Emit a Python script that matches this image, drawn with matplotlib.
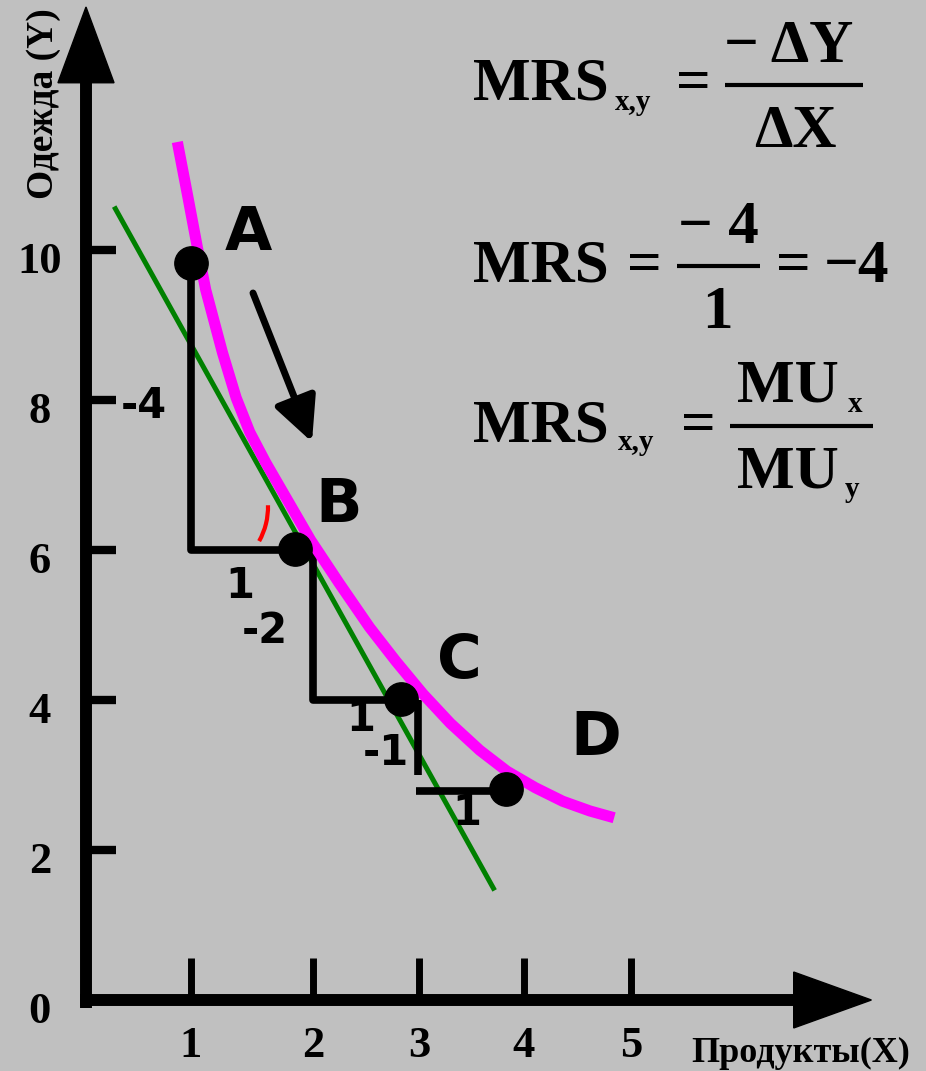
import numpy as np
import matplotlib.pyplot as plt
from matplotlib.patches import Polygon, Arc

# =============================================================================
# DATA
# =============================================================================

# indifference curve
curve_x = [0.87, 0.97, 1.06, 1.14, 1.30, 1.43, 1.56, 1.71, 1.90, 2.14, 2.41,
           2.70, 2.95, 3.21, 3.47, 3.75, 4.01, 4.28, 4.54, 4.80, 5.03]
curve_y = [11.44, 10.71, 10.04, 9.47, 8.63, 8.03, 7.57, 7.17, 6.71, 6.13, 5.56,
           4.97, 4.52, 4.08, 3.69, 3.33, 3.05, 2.83, 2.65, 2.52, 2.43]

# budget / tangent line
line_x = [0.28, 3.88]
line_y = [10.55, 1.49]

# bundles
point_names = ["A", "B", "C", "D"]
point_x = [1.0, 1.99, 3.0, 4.0]
point_y = [9.83, 6.02, 4.02, 2.82]

# dY / dX steps
step_x = [[1.0, 1.0, 2.0], [2.16, 2.16, 3.0], [3.16, 3.16], [3.14, 4.0]]
step_y = [[9.83, 6.0, 6.0], [6.0, 4.0, 4.0], [4.0, 3.0], [2.79, 2.79]]
step_labels = ["-4", "1", "-2", "1", "-1", "1"]

y_ticks = [0, 2, 4, 6, 8, 10]
x_ticks = [1.0, 2.16, 3.17, 4.17, 5.19]
x_labels = ["1", "2", "3", "4", "5"]

# =============================================================================
# FIGURE
# =============================================================================

SERIF = "Liberation Serif"
SANS = "DejaVu Sans"
BG = "#C0C0C0"

fig = plt.figure(figsize=(9.26, 10.71), dpi=100, facecolor=BG)
ax = fig.add_axes([0, 0, 1, 1])
ax.set_facecolor(BG)
# 105 px per x unit, 75 px per y unit, origin at pixel (86, 1000)
ax.set_xlim(-86 / 105, 840 / 105)
ax.set_ylim(-71 / 75, 1000 / 75)
ax.axis("off")


def P(x, y):
    # pixel position of the reference -> data coords
    return (x - 86) / 105, (1000 - y) / 75


# axes with arrow heads
y_end, x_end = 13.24, 7.48
ax.plot([0, 0], [-0.11, y_end - 1.0], color="k", lw=8.6, solid_capstyle="butt")
ax.plot([-0.06, x_end - 0.74], [0, 0], color="k", lw=8.6, solid_capstyle="butt")
ax.add_patch(Polygon([(-0.267, y_end - 1.01), (0.267, y_end - 1.01), (0, y_end)],
                     closed=True, color="k"))
ax.add_patch(Polygon([(x_end - 0.74, 0.373), (x_end - 0.74, -0.373), (x_end, 0)],
                     closed=True, color="k"))

for t in y_ticks[1:]:
    ax.plot([0, 0.29], [t, t], color="k", lw=6, solid_capstyle="butt")
for t in y_ticks:
    ax.text(-0.44, t - 0.31, str(t), family=SERIF, weight="bold", size=32,
            ha="center", va="baseline")
for t, lab in zip(x_ticks, x_labels):
    ax.plot([t, t], [0, 0.56], color="k", lw=5, solid_capstyle="butt")
    ax.text(t, -0.76, lab, family=SERIF, weight="bold", size=32,
            ha="center", va="baseline")

ax.text(*P(910, 1062), "Продукты(X)", family=SERIF, weight="bold", size=26,
        ha="right", va="baseline")
ax.text(*P(44, 104), "Одежда (Y)", family=SERIF, weight="bold", size=27,
        rotation=90, ha="center", va="center")

# lines
ax.plot(line_x, line_y, color="#008000", lw=3.6, zorder=2)
for sx, sy in zip(step_x, step_y):
    ax.plot(sx, sy, color="k", lw=5.5, solid_capstyle="butt", zorder=3)
ax.plot(curve_x, curve_y, color="#FF00FF", lw=8, solid_capstyle="butt",
        solid_joinstyle="round", zorder=4)
ax.plot(point_x, point_y, "o", color="k", ms=24, zorder=5)

# angle mark
ax.add_patch(Arc(P(198, 507), 140 / 105, 140 / 75, theta1=-38, theta2=2,
                 color="red", lw=3, zorder=4))

# movement arrow
ax.annotate("", xy=P(312, 442), xytext=P(253, 293),
            arrowprops=dict(arrowstyle="-|>,head_length=0.45,head_width=0.22",
                            color="k", lw=5, mutation_scale=60,
                            shrinkA=0, shrinkB=0))

# labels
name_pos = [(248, 250), (339, 522), (459, 678), (596, 755)]
for name, (px, py) in zip(point_names, name_pos):
    ax.text(*P(px, py), name, family=SANS, weight="bold", size=44,
            ha="center", va="baseline", zorder=6)

step_pos = [(144, 418), (240, 598), (265, 643), (361, 731), (386, 765), (467, 825)]
for lab, (px, py) in zip(step_labels, step_pos):
    ax.text(*P(px, py), lab, family=SANS, weight="bold", size=30,
            ha="center", va="baseline", zorder=6)


# formulas
def put(x, y, s, size=44, ha="left"):
    ax.text(*P(x, y), s, family=SERIF, weight="bold", size=size,
            ha=ha, va="baseline")


def bar(x0, x1, y):
    a, b = P(x0, y), P(x1, y)
    ax.plot([a[0], b[0]], [a[1], b[1]], color="k", lw=3, solid_capstyle="butt")


put(473, 100, "MRS")
put(615, 110, "x,y", size=21)
put(693, 100, "=", ha="center")
bar(725, 863, 85)
put(789, 62, "\u2212 \u0394Y", ha="center")
put(795, 147, "\u0394X", ha="center")

put(473, 282, "MRS")
put(644, 282, "=", ha="center")
bar(677, 760, 266)
put(718, 243, "\u2212 4", ha="center")
put(717, 328, "1", ha="center")
put(793, 282, "=", ha="center")
put(857, 282, "\u22124", ha="center")

put(473, 442, "MRS")
put(618, 450, "x,y", size=21)
put(698, 442, "=", ha="center")
bar(730, 873, 426)
put(737, 402, "MU")
put(848, 412, "x", size=21)
put(737, 488, "MU")
put(845, 497, "y", size=21)

plt.savefig("out.png", dpi=100, facecolor=BG)
